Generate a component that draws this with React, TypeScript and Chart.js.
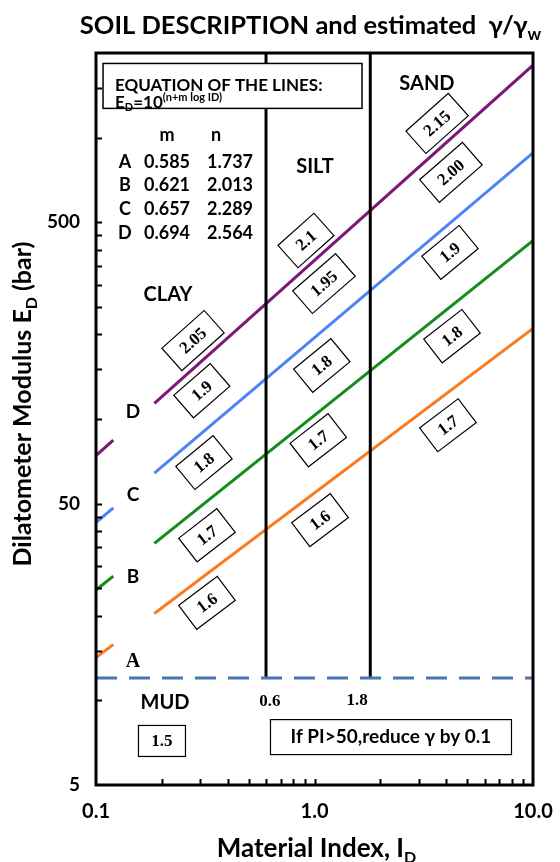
import { useEffect, useRef } from "react";
import { Chart, registerables } from "chart.js";

Chart.register(...registerables);

// ---------- axes ----------
const X_MIN = 0.1;
const X_MAX = 10;
const Y_MIN = 5;
const Y_MAX = 2000;
const xMajorTicks = [0.1, 1, 10];
const xTickLabels = ["0.1", "1.0", "10.0"];
const xMinorTicks = [0.2, 0.3, 0.4, 0.5, 0.6, 0.7, 0.8, 0.9, 2, 3, 4, 5, 6, 7, 8, 9];
const yMajorTicks = [5, 50, 500];
const yTickLabels = ["5", "50", "500"];
const yMinorTicks = [10, 15, 20, 25, 30, 35, 40, 45, 100, 150, 200, 250, 300, 350, 400, 450, 1000, 1500];

// ---------- lines A-D (stub 0.1-0.12, gap, main 0.185-10) ----------
const lineNames = ["A", "B", "C", "D"];
const mCoef = ["0.585", "0.621", "0.657", "0.694"];
const nCoef = ["1.737", "2.013", "2.289", "2.564"];
const mSlope = [0.585, 0.621, 0.657, 0.694];
const lineID = [0.1, 0.12, 0.15, 0.185, 10];
const edA = [14.19, 15.79, null, 20.34, 209.9];
const edB = [24.66, 27.62, null, 36.13, 430.5];
const edC = [42.85, 48.31, null, 64.23, 883.1];
const edD = [74.13, 84.14, null, 113.6, 1811];

// ---------- boundaries ----------
const mudED = 12;
const boundaryID = [0.6, 1.8];
const boundaryLabels = ["0.6", "1.8"];

// ---------- gamma labels per zone (below A, A-B, B-C, C-D, above D) ----------
const clayLabels = ["1.6", "1.7", "1.8", "1.9", "2.05"];
const clayLabelID = [0.322, 0.322, 0.312, 0.305, 0.278];
const clayLabelED = [22.2, 38.6, 70, 126, 190];
const siltLabels = ["1.6", "1.7", "1.8", "1.95", "2.1"];
const siltLabelID = [1.06, 1.04, 1.08, 1.105, 0.914];
const siltLabelED = [43.7, 84, 155, 303, 431];
const sandLabels = ["1.7", "1.8", "1.9", "2.00", "2.15"];
const sandLabelID = [4.08, 4.26, 4.17, 4.21, 3.64];
const sandLabelED = [95, 197, 391, 753, 1124];

const COLORS = ["#fb7a22", "#168a16", "#4a84f6", "#7b1878"];
const SANS = "Lato, 'Open Sans', 'DejaVu Sans', sans-serif";
const SERIF = "'Liberation Serif', 'DejaVu Serif', serif";

type Seg = { t: string; size: number; dy?: number; family?: string };

function rich(ctx: CanvasRenderingContext2D, segs: Seg[], x: number, y: number, align: "left" | "center") {
  const widths = segs.map((s) => {
    ctx.font = `bold ${s.size}px ${s.family || SANS}`;
    return ctx.measureText(s.t).width;
  });
  const total = widths.reduce((a, b) => a + b, 0);
  let cx = align === "center" ? x - total / 2 : x;
  ctx.textAlign = "left";
  ctx.textBaseline = "alphabetic";
  segs.forEach((s, i) => {
    ctx.font = `bold ${s.size}px ${s.family || SANS}`;
    ctx.fillText(s.t, cx, y + (s.dy || 0));
    cx += widths[i];
  });
}

function txt(ctx: CanvasRenderingContext2D, t: string, x: number, y: number, font: string, align: CanvasTextAlign = "center") {
  ctx.font = font;
  ctx.textAlign = align;
  ctx.textBaseline = "middle";
  ctx.fillText(t, x, y);
}

const annotate = {
  id: "annotate",
  afterDatasetsDraw(chart: any) {
    const ctx: CanvasRenderingContext2D = chart.ctx;
    const xs = chart.scales.x;
    const ys = chart.scales.y;
    const X = (v: number) => xs.getPixelForValue(v);
    const Y = (v: number) => ys.getPixelForValue(v);
    const ca = chart.chartArea;
    ctx.save();
    ctx.fillStyle = "#000";
    ctx.strokeStyle = "#000";

    // inner tick marks
    ctx.lineWidth = 2;
    ctx.beginPath();
    [...yMajorTicks, ...yMinorTicks].forEach((v) => {
      if (v <= Y_MIN || v >= Y_MAX) return;
      const p = Math.round(Y(v)) + 0.5;
      ctx.moveTo(ca.left, p);
      ctx.lineTo(ca.left + 6, p);
    });
    [...xMajorTicks, ...xMinorTicks].forEach((v) => {
      if (v <= X_MIN || v >= X_MAX) return;
      const p = Math.round(X(v)) + 0.5;
      ctx.moveTo(p, ca.bottom);
      ctx.lineTo(p, ca.bottom - 6);
    });
    ctx.stroke();

    // frame
    ctx.lineWidth = 3;
    ctx.strokeRect(ca.left, ca.top, ca.right - ca.left, ca.bottom - ca.top);

    // equation box
    const bx1 = X(0.1077), bx2 = X(1.65), by1 = Y(1836), by2 = Y(1271);
    ctx.fillStyle = "#fff";
    ctx.fillRect(bx1, by1, bx2 - bx1, by2 - by1);
    ctx.lineWidth = 1.5;
    ctx.strokeRect(bx1, by1, bx2 - bx1, by2 - by1);
    ctx.fillStyle = "#000";
    txt(ctx, "EQUATION OF THE LINES:", X(0.1222), Y(1534), `bold 17px ${SANS}`, "left");
    rich(ctx, [
      { t: "E", size: 17 },
      { t: "D", size: 11, dy: 3 },
      { t: "=10", size: 17 },
      { t: "(n+m log ID)", size: 11, dy: -7 },
    ], X(0.1222), Y(1334) + 6, "left");

    // table
    const tf = `bold 18px ${SANS}`;
    txt(ctx, "m", X(0.2113), Y(1018), tf);
    txt(ctx, "n", X(0.354), Y(1018), tf);
    const rowED = [817, 677, 556, 457];
    for (let i = 0; i < 4; i++) {
      txt(ctx, lineNames[i], X(0.1357), Y(rowED[i]), tf);
      txt(ctx, mCoef[i], X(0.2113), Y(rowED[i]), tf);
      txt(ctx, nCoef[i], X(0.4106), Y(rowED[i]), tf);
    }

    // zone names
    const zf = `bold 20px ${SANS}`;
    txt(ctx, "CLAY", X(0.2136), Y(277), zf);
    txt(ctx, "SILT", X(1.005), Y(790), zf);
    txt(ctx, "SAND", X(3.27), Y(1559), zf);
    txt(ctx, "MUD", X(0.2069), Y(9.78), zf);

    // line letters
    txt(ctx, "D", X(0.1477), Y(105.7), `bold 19px ${SANS}`);
    txt(ctx, "C", X(0.1477), Y(53.6), `bold 19px ${SANS}`);
    txt(ctx, "B", X(0.1477), Y(27.4), `bold 19px ${SANS}`);
    txt(ctx, "A", X(0.1477), Y(13.7), `bold 20px ${SERIF}`);

    // boundary values
    txt(ctx, boundaryLabels[0], X(0.625), Y(9.86), `bold 17px ${SERIF}`);
    txt(ctx, boundaryLabels[1], X(1.565), Y(10.0), `bold 17px ${SERIF}`);

    // 1.5 box
    {
      const cx = X(0.2004), cy = Y(7.17);
      ctx.fillStyle = "#fff";
      ctx.fillRect(cx - 23.5, cy - 15.5, 47, 31);
      ctx.lineWidth = 1.2;
      ctx.strokeRect(cx - 23.5, cy - 15.5, 47, 31);
      ctx.fillStyle = "#000";
      txt(ctx, "1.5", cx, cy + 1, `bold 17px ${SERIF}`);
    }
    // PI note box
    {
      const cx = X(2.239), cy = Y(7.4);
      ctx.fillStyle = "#fff";
      ctx.fillRect(cx - 120.5, cy - 17.5, 241, 35);
      ctx.lineWidth = 1.2;
      ctx.strokeRect(cx - 120.5, cy - 17.5, 241, 35);
      ctx.fillStyle = "#000";
      txt(ctx, "If PI>50,reduce \u03b3 by 0.1", cx, cy, `bold 19px ${SANS}`);
    }

    // rotated gamma labels
    const kx = X(10) - X(1);
    const ky = Y(5) - Y(50);
    const zoneM = [mSlope[0], (mSlope[0] + mSlope[1]) / 2, (mSlope[1] + mSlope[2]) / 2, (mSlope[2] + mSlope[3]) / 2, mSlope[3]];
    const cols = [
      [clayLabels, clayLabelID, clayLabelED],
      [siltLabels, siltLabelID, siltLabelED],
      [sandLabels, sandLabelID, sandLabelED],
    ] as [string[], number[], number[]][];
    cols.forEach(([labs, ids, eds]) => {
      labs.forEach((t, i) => {
        const ang = Math.atan((zoneM[i] * ky) / kx);
        ctx.save();
        ctx.translate(X(ids[i]), Y(eds[i]));
        ctx.rotate(-ang);
        ctx.font = `bold 17px ${SERIF}`;
        const w = ctx.measureText(t).width + 27;
        const h = 30;
        ctx.fillStyle = "#fff";
        ctx.fillRect(-w / 2, -h / 2, w, h);
        ctx.lineWidth = 1.2;
        ctx.strokeStyle = "#000";
        ctx.strokeRect(-w / 2, -h / 2, w, h);
        ctx.fillStyle = "#000";
        ctx.textAlign = "center";
        ctx.textBaseline = "middle";
        ctx.fillText(t, 0, 1);
        ctx.restore();
      });
    });

    // title
    ctx.fillStyle = "#000";
    rich(ctx, [
      { t: "SOIL DESCRIPTION and estimated  \u03b3/\u03b3", size: 25.5 },
      { t: "w", size: 17, dy: 6 },
    ], (ca.left + ca.right) / 2 - 4, 34, "center");

    // x title
    rich(ctx, [
      { t: "Material Index, I", size: 26 },
      { t: "D", size: 16, dy: 6 },
    ], (ca.left + ca.right) / 2 + 2, 857, "center");

    // y title
    ctx.save();
    ctx.translate(31, 404);
    ctx.rotate(-Math.PI / 2);
    rich(ctx, [
      { t: "Dilatometer Modulus E", size: 25 },
      { t: "D", size: 16, dy: 6 },
      { t: " (bar)", size: 25 },
    ], 0, 0, "center");
    ctx.restore();

    ctx.restore();
  },
};

function pts(ed: (number | null)[]) {
  return lineID.map((x, i) => ({ x, y: ed[i] }));
}

export default function App() {
  const ref = useRef<HTMLCanvasElement | null>(null);
  useEffect(() => {
    document.body.style.margin = "0";
    const canvas = ref.current!;
    const lineSets = [edA, edB, edC, edD].map((ed, i) => ({
      label: lineNames[i],
      data: pts(ed),
      borderColor: COLORS[i],
      borderWidth: 3,
      pointRadius: 0,
      spanGaps: false,
    }));
    const chart = new Chart(canvas, {
      type: "line",
      data: {
        datasets: [
          {
            label: "mud",
            data: [{ x: X_MIN, y: mudED }, { x: X_MAX, y: mudED }],
            borderColor: "#4a74b4",
            borderWidth: 3,
            borderDash: [21, 12],
            pointRadius: 0,
          },
          ...boundaryID.map((b) => ({
            label: "b" + b,
            data: [{ x: b, y: mudED }, { x: b, y: Y_MAX }],
            borderColor: "#000",
            borderWidth: 3,
            pointRadius: 0,
          })),
          ...lineSets,
        ] as any,
      },
      options: {
        responsive: false,
        animation: false,
        layout: { padding: { left: 0, right: 27, top: 53, bottom: 0 } },
        plugins: { legend: { display: false }, tooltip: { enabled: false }, title: { display: false } },
        scales: {
          x: {
            type: "logarithmic",
            min: X_MIN,
            max: X_MAX,
            afterFit: (s: any) => { s.height = 77; s.paddingLeft = 0; s.paddingRight = 0; },
            afterBuildTicks: (s: any) => { s.ticks = xMajorTicks.map((v) => ({ value: v })); },
            ticks: {
              autoSkip: false,
              maxRotation: 0,
              padding: 15,
              color: "#000",
              font: { family: SANS, size: 20, weight: "bold" },
              callback: (v: any) => { const i = xMajorTicks.indexOf(Number(v)); return i >= 0 ? xTickLabels[i] : ""; },
            },
            grid: { display: false, drawTicks: false },
            border: { display: false },
          },
          y: {
            type: "logarithmic",
            min: Y_MIN,
            max: Y_MAX,
            afterFit: (s: any) => { s.width = 96; s.paddingTop = 0; s.paddingBottom = 0; },
            afterBuildTicks: (s: any) => { s.ticks = yMajorTicks.map((v) => ({ value: v })); },
            ticks: {
              autoSkip: false,
              padding: 16,
              color: "#000",
              font: { family: SANS, size: 19, weight: "bold" },
              callback: (v: any) => { const i = yMajorTicks.indexOf(Number(v)); return i >= 0 ? yTickLabels[i] : ""; },
            },
            grid: { display: false, drawTicks: false },
            border: { display: false },
          },
        },
      } as any,
      plugins: [annotate],
    });
    return () => chart.destroy();
  }, []);
  return <canvas ref={ref} width={560} height={862} style={{ display: "block" }} />;
}
